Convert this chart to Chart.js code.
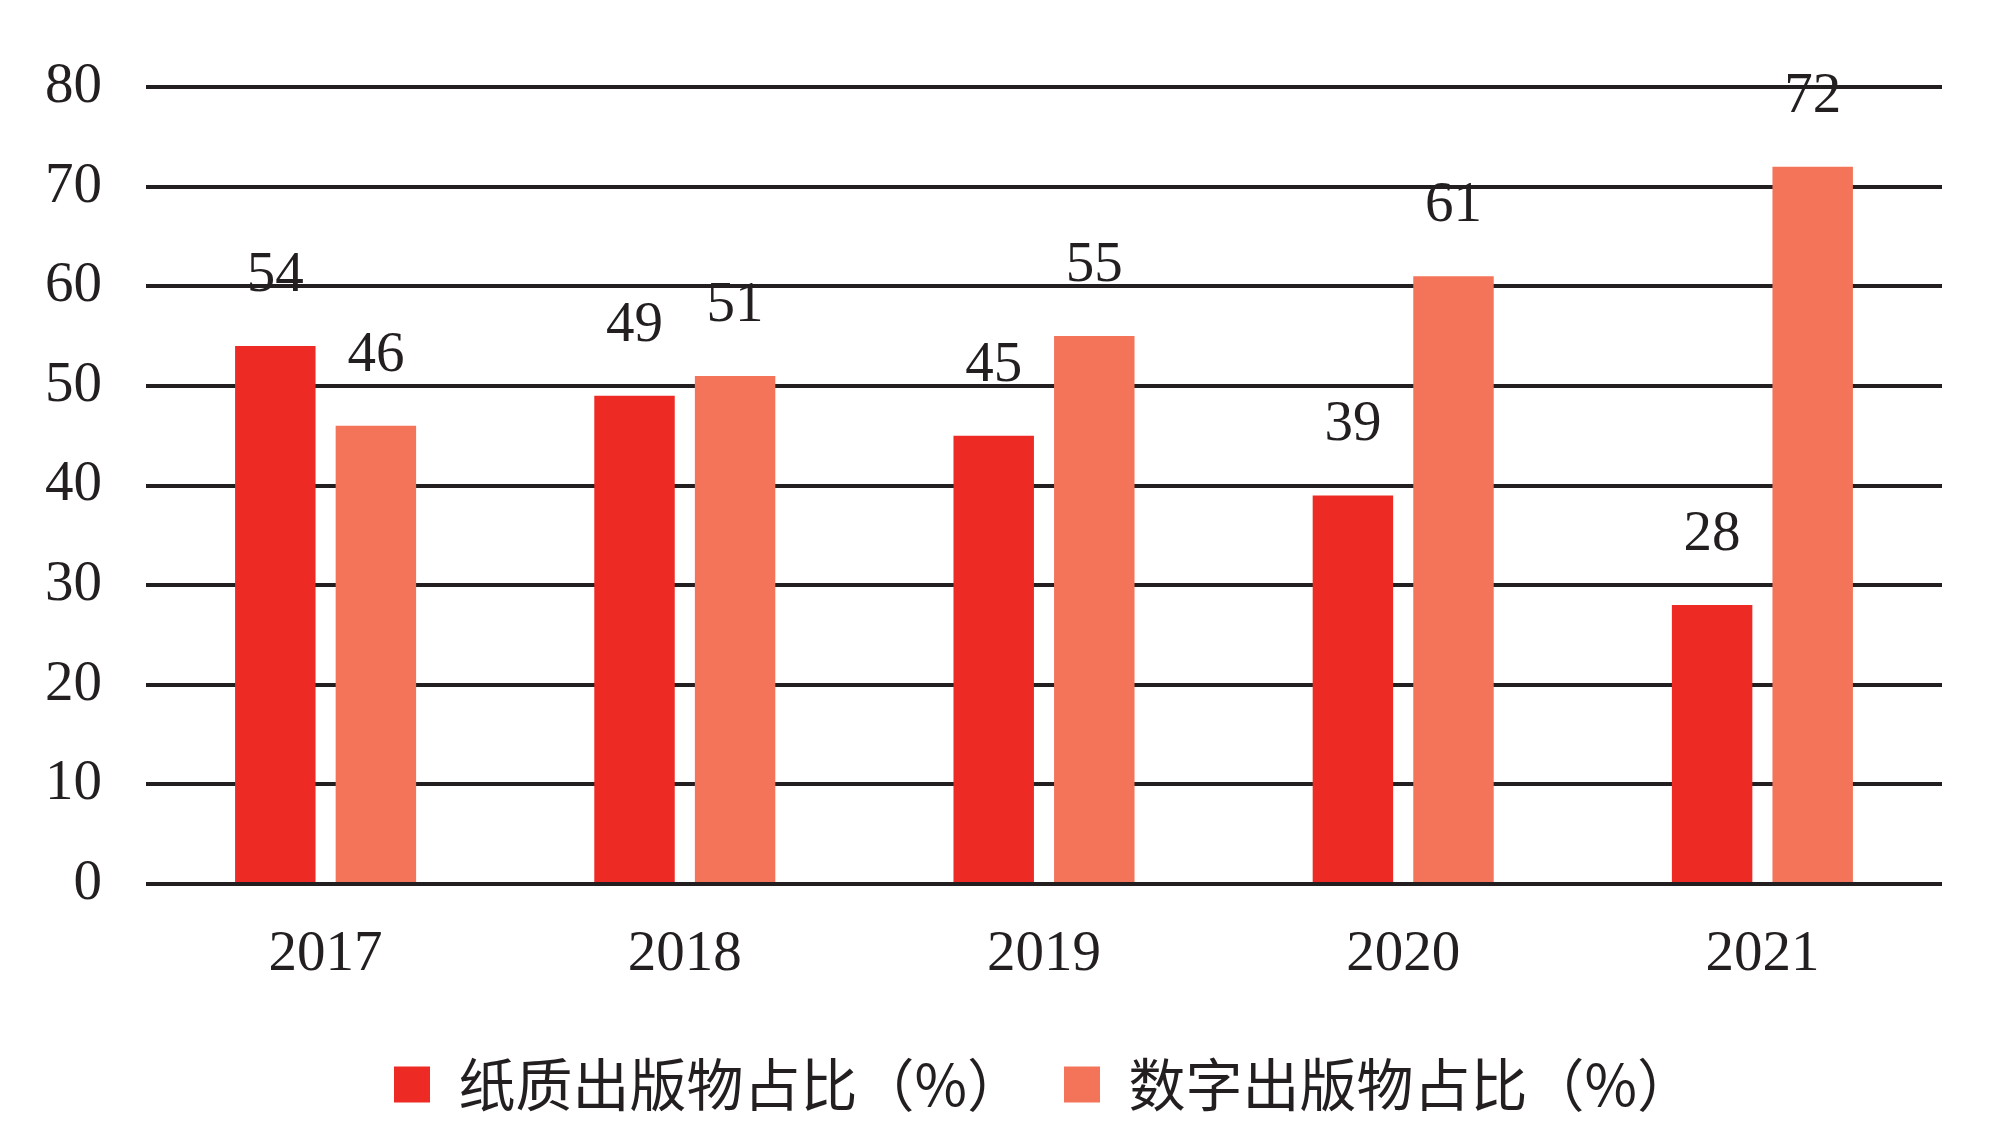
<!DOCTYPE html>
<html>
<head>
<meta charset="utf-8">
<script src="https://cdn.jsdelivr.net/npm/chart.js@4.4.1/dist/chart.umd.min.js"></script>
<style>
    body { margin: 0; background: #fff; }
    #wrap { width: 2000px; height: 1141px; }
</style>
</head>
<body>
<div id="wrap"><canvas id="shareChart" width="2000" height="1141"></canvas></div>
<script>
// --- Data ---
const years = ['2017', '2018', '2019', '2020', '2021'];
const paperShare = [54, 49, 45, 39, 28];
const digitalShare = [46, 51, 55, 61, 72];
const seriesNames = ['纸质出版物占比（%）', '数字出版物占比（%）'];
const yTicks = [0, 10, 20, 30, 40, 50, 60, 70, 80];

const numFont = '"Liberation Serif", "DejaVu Serif", serif';
const cjkFont = '"Noto Sans CJK SC", "Liberation Serif", serif';

// Value labels above each bar
const barLabels = {
    id: 'barLabels',
    afterDatasetsDraw(chart) {
        const ctx = chart.ctx;
        ctx.save();
        ctx.font = '57px ' + numFont;
        ctx.fillStyle = '#231f20';
        ctx.textAlign = 'center';
        ctx.textBaseline = 'alphabetic';
        chart.data.datasets.forEach((ds, i) => {
            chart.getDatasetMeta(i).data.forEach((bar, j) => {
                ctx.fillText(ds.data[j], bar.x, bar.y - 55);
            });
        });
        ctx.restore();
    }
};

new Chart(document.getElementById('shareChart'), {
    type: 'bar',
    data: {
        labels: years,
        datasets: [{
            label: seriesNames[0],
            data: paperShare,
            backgroundColor: '#ee2a24',
            categoryPercentage: 0.56,
            barPercentage: 0.8
        }, {
            label: seriesNames[1],
            data: digitalShare,
            backgroundColor: '#f4745a',
            categoryPercentage: 0.56,
            barPercentage: 0.8
        }]
    },
    options: {
        responsive: false,
        devicePixelRatio: 1,
        animation: false,
        layout: {
            padding: { top: 87, right: 58, left: 1, bottom: 18 }
        },
        plugins: {
            legend: {
                position: 'bottom',
                fullSize: false,
                labels: {
                    font: { family: cjkFont, size: 57 },
                    color: '#231f20',
                    boxWidth: 36,
                    boxHeight: 36,
                    padding: 40
                }
            },
            tooltip: { enabled: false }
        },
        scales: {
            y: {
                min: 0,
                max: 80,
                afterBuildTicks: (axis) => { axis.ticks = yTicks.map(v => ({ value: v })); },
                border: { display: false },
                grid: {
                    color: '#231f20',
                    lineWidth: 4,
                    drawTicks: false
                },
                ticks: {
                    font: { family: numFont, size: 57 },
                    color: '#231f20',
                    padding: 44
                }
            },
            x: {
                border: { display: false },
                grid: { display: false },
                afterFit: (scale) => { scale.height = 132; },
                ticks: {
                    font: { family: numFont, size: 57 },
                    color: '#231f20',
                    padding: 29
                }
            }
        }
    },
    plugins: [barLabels]
});
</script>
</body>
</html>
